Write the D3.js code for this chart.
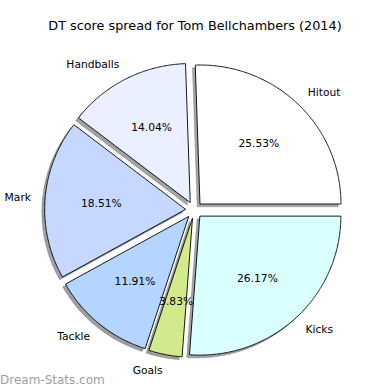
<!DOCTYPE html>
<html>
<head>
<meta charset="utf-8">
<script src="https://cdn.jsdelivr.net/npm/d3@7"></script>
<style>
  html, body { margin: 0; padding: 0; background: #fff; }
  svg { display: block; }
  text { font-family: "DejaVu Sans", sans-serif; fill: #000; }
</style>
</head>
<body>
<svg id="chart" width="390" height="390"></svg>
<script>
// ---- data ----
const title = "DT score spread for Tom Bellchambers (2014)";
const categories = ["Hitout", "Handballs", "Mark", "Tackle", "Goals", "Kicks"];
const values = [25.53, 14.04, 18.51, 11.91, 3.83, 26.17];
const colors = ["#ffffff", "#eaf0ff", "#c6d8ff", "#b4d5ff", "#d2ea8c", "#daffff"];
const explode = [0.06, 0.06, 0.06, 0.06, 0.06, 0.06];
const watermark = "Dream-Stats.com";

// ---- layout ----
const svg = d3.select("#chart");
const cx = 194.1, cy = 210, rx = 141, ry = 139;
const x = d3.scaleLinear().domain([-1, 1]).range([cx - rx, cx + rx]);
const y = d3.scaleLinear().domain([-1, 1]).range([cy + ry, cy - ry]);
// text positions (slightly larger vertical spread)
const yText = d3.scaleLinear().domain([-1, 1]).range([cy + 141, cy - 141]);
const labelDist = 1.1, pctDist = 0.6;
const shadowOff = 0.02;

const pie = d3.pie().sort(null).startAngle(0).endAngle(2 * Math.PI).value(d => d);
const arcs = pie(values);

const line = d3.line().x(p => x(p[0])).y(p => y(p[1]));

function wedgePoints(a, ox, oy) {
  const pts = [[ox, oy]];
  const n = Math.max(2, Math.ceil((a.endAngle - a.startAngle) / (Math.PI / 360)));
  for (let i = 0; i <= n; i++) {
    const t = a.startAngle + (a.endAngle - a.startAngle) * i / n; // counter-clockwise from +x
    pts.push([ox + Math.cos(t), oy + Math.sin(t)]);
  }
  pts.push([ox, oy]);
  return pts;
}

const wedges = arcs.map((a, i) => {
  const tm = (a.startAngle + a.endAngle) / 2;
  const ox = explode[i] * Math.cos(tm), oy = explode[i] * Math.sin(tm);
  return { a, i, tm, ox, oy };
});

// shadows (below all wedges)
svg.append("g").selectAll("path").data(wedges).join("path")
  .attr("d", w => line(wedgePoints(w.a, w.ox - shadowOff, w.oy - shadowOff)) + "Z")
  .attr("fill", w => { const c = d3.rgb(colors[w.i]); return d3.rgb(c.r * 0.3, c.g * 0.3, c.b * 0.3).toString(); })
  .attr("fill-opacity", 0.5)
  .attr("stroke", w => { const c = d3.rgb(colors[w.i]); return d3.rgb(c.r * 0.3, c.g * 0.3, c.b * 0.3).toString(); })
  .attr("stroke-opacity", 0.5)
  .attr("stroke-width", 0.5);

// wedges
svg.append("g").selectAll("path").data(wedges).join("path")
  .attr("d", w => line(wedgePoints(w.a, w.ox, w.oy)) + "Z")
  .attr("fill", w => colors[w.i])
  .attr("stroke", "#000")
  .attr("stroke-width", 0.9)
  .attr("stroke-linejoin", "miter");

// category labels
svg.append("g").selectAll("text").data(wedges).join("text")
  .attr("x", w => x(w.ox + labelDist * Math.cos(w.tm)))
  .attr("y", w => yText(w.oy + labelDist * Math.sin(w.tm)))
  .attr("text-anchor", w => (w.ox + labelDist * Math.cos(w.tm)) > 0 ? "start" : "end")
  .attr("dominant-baseline", "central")
  .style("font-size", "10.7px")
  .text(w => categories[w.i]);

// percentage labels
svg.append("g").selectAll("text").data(wedges).join("text")
  .attr("x", w => x(w.ox + pctDist * Math.cos(w.tm)))
  .attr("y", w => yText(w.oy + pctDist * Math.sin(w.tm)))
  .attr("text-anchor", "middle")
  .attr("dominant-baseline", "central")
  .style("font-size", "10.7px")
  .text(w => values[w.i].toFixed(2) + "%");

// title
svg.append("text")
  .attr("x", 195).attr("y", 25)
  .attr("text-anchor", "middle")
  .attr("dominant-baseline", "central")
  .style("font-size", "12.8px")
  .text(title);

// watermark
svg.append("text")
  .attr("x", 0).attr("y", 384)
  .style("font-size", "12px")
  .style("fill", "#a0a0a0")
  .text(watermark);
</script>
</body>
</html>
